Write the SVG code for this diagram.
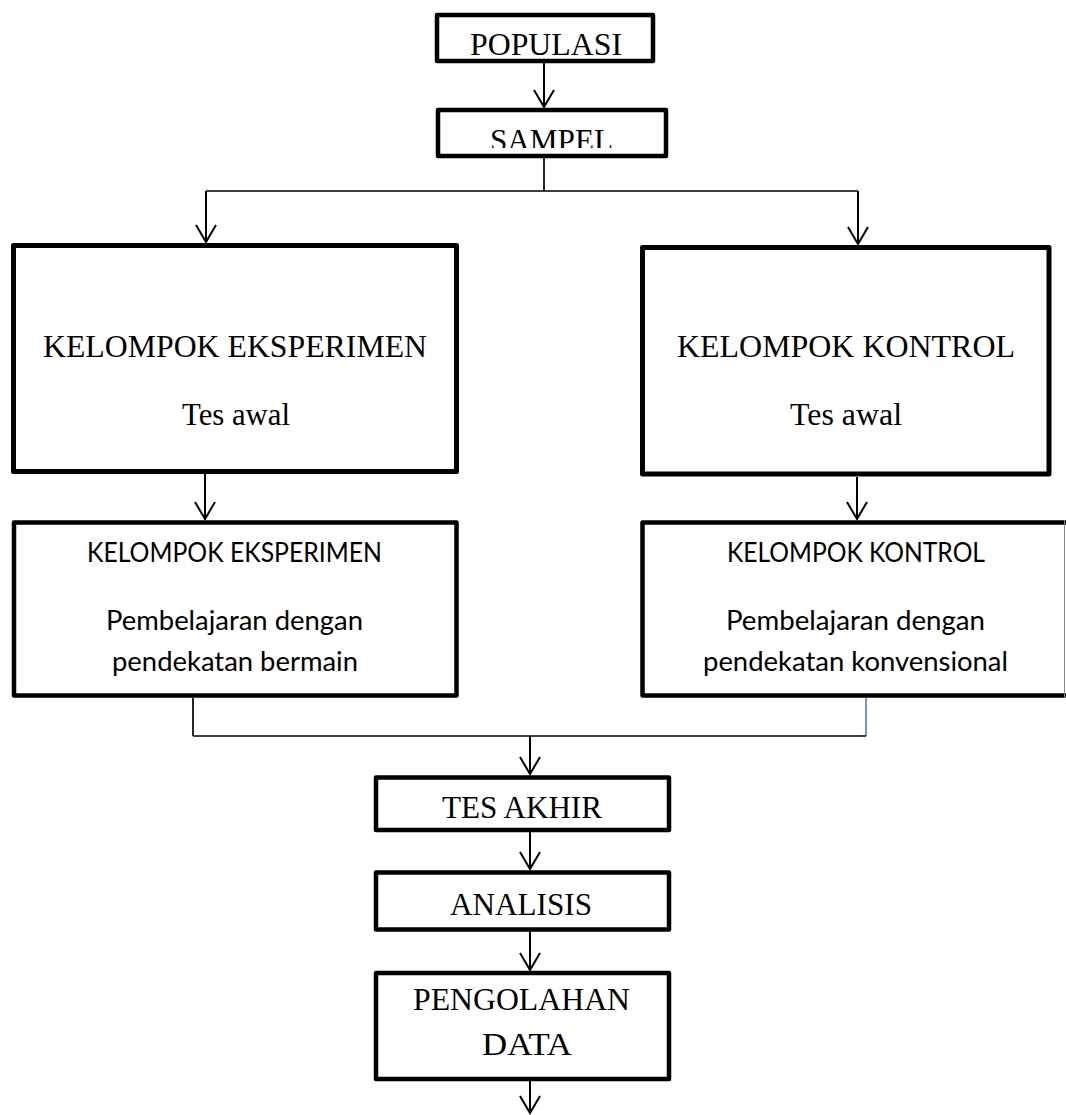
<svg xmlns="http://www.w3.org/2000/svg" width="1066" height="1115" viewBox="0 0 1066 1115">
  <style>
    .box { fill: #ffffff; stroke: #000000; stroke-width: 4.5; stroke-linejoin: round; }
    .big { stroke-width: 5; }
    .serif { font-family: "Liberation Serif", "Times New Roman", serif; font-size: 32px; fill: #000000; text-anchor: middle; }
    .sans { font-family: Lato, "Open Sans", "Liberation Sans", sans-serif; font-size: 26px; fill: #000000; text-anchor: middle; }
    .conn { fill: none; stroke: #000000; stroke-width: 2; }
    .thin { fill: none; stroke: #000000; stroke-width: 1.7; }
  </style>
  <defs>
    <marker id="arr" markerUnits="userSpaceOnUse" viewBox="-20 -12 22 24" refX="0" refY="0" markerWidth="22" markerHeight="24" orient="auto">
      <path d="M-17,-10 L0,0 L-17,10" fill="none" stroke="#000000" stroke-width="2" stroke-linejoin="miter"/>
    </marker>
    <clipPath id="clipSampel">
      <rect x="440" y="112" width="224" height="36"/>
    </clipPath>
  </defs>

  <rect width="1066" height="1115" fill="#ffffff"/>

  <g id="connectors">
    <line class="conn" x1="544" y1="63" x2="544" y2="107" marker-end="url(#arr)"/>
    <line class="thin" x1="544" y1="158" x2="544" y2="191"/>
    <line class="thin" x1="206" y1="191" x2="858" y2="191"/>
    <line class="conn" x1="206" y1="191" x2="206" y2="242" marker-end="url(#arr)"/>
    <line class="conn" x1="858" y1="191" x2="858" y2="244" marker-end="url(#arr)"/>
    <line class="conn" x1="205" y1="474" x2="205" y2="519" marker-end="url(#arr)"/>
    <line class="conn" x1="857" y1="477" x2="857" y2="519" marker-end="url(#arr)"/>
    <line class="thin" x1="193" y1="698" x2="193" y2="736"/>
    <line fill="none" stroke="#5b87cc" stroke-width="1.7" x1="866" y1="698" x2="866" y2="736"/>
    <line class="thin" x1="193" y1="736" x2="866" y2="736"/>
    <line class="conn" x1="530" y1="736" x2="530" y2="774" marker-end="url(#arr)"/>
    <line class="conn" x1="530" y1="832" x2="530" y2="869" marker-end="url(#arr)"/>
    <line class="conn" x1="530" y1="931" x2="530" y2="970" marker-end="url(#arr)"/>
    <line class="conn" x1="530" y1="1081" x2="530" y2="1113" marker-end="url(#arr)"/>
  </g>

  <g id="populasi">
    <rect class="box" x="437" y="15" width="216" height="46"/>
    <text class="serif" x="546" y="55" textLength="152" lengthAdjust="spacingAndGlyphs">POPULASI</text>
  </g>

  <g id="sampel">
    <rect class="box" x="438" y="110" width="228" height="46"/>
    <text class="serif" x="551.5" y="151" textLength="123" lengthAdjust="spacingAndGlyphs" clip-path="url(#clipSampel)">SAMPEL</text>
  </g>

  <g id="kelompok-eksperimen-tes-awal">
    <rect class="box big" x="13.5" y="245.5" width="443" height="226"/>
    <text class="serif" x="235" y="357" textLength="384" lengthAdjust="spacingAndGlyphs">KELOMPOK EKSPERIMEN</text>
    <text class="serif" x="236" y="425" textLength="108" lengthAdjust="spacingAndGlyphs">Tes awal</text>
  </g>

  <g id="kelompok-kontrol-tes-awal">
    <rect class="box big" x="642.5" y="247.5" width="406.5" height="226.5"/>
    <text class="serif" x="846" y="357" textLength="338" lengthAdjust="spacingAndGlyphs">KELOMPOK KONTROL</text>
    <text class="serif" x="846" y="425" textLength="112" lengthAdjust="spacingAndGlyphs">Tes awal</text>
  </g>

  <g id="kelompok-eksperimen-pembelajaran">
    <rect class="box" x="14" y="522.5" width="442.5" height="173"/>
    <text class="sans" x="234.5" y="562" textLength="295" lengthAdjust="spacingAndGlyphs">KELOMPOK EKSPERIMEN</text>
    <text class="sans" x="234.5" y="630" textLength="257" lengthAdjust="spacingAndGlyphs">Pembelajaran dengan</text>
    <text class="sans" x="235" y="670.5" textLength="246" lengthAdjust="spacingAndGlyphs">pendekatan bermain</text>
  </g>

  <g id="kelompok-kontrol-pembelajaran">
    <rect class="box" x="642.5" y="522.5" width="426" height="173"/>
    <line x1="1064.5" y1="520" x2="1064.5" y2="698" stroke="#8a8a8a" stroke-width="1"/>
    <text class="sans" x="856" y="562" textLength="258" lengthAdjust="spacingAndGlyphs">KELOMPOK KONTROL</text>
    <text class="sans" x="855.5" y="630" textLength="259" lengthAdjust="spacingAndGlyphs">Pembelajaran dengan</text>
    <text class="sans" x="855.5" y="670.5" textLength="305" lengthAdjust="spacingAndGlyphs">pendekatan konvensional</text>
  </g>

  <g id="tes-akhir">
    <rect class="box" x="376" y="777.5" width="293" height="52.5"/>
    <text class="serif" x="522" y="818" textLength="160" lengthAdjust="spacingAndGlyphs">TES AKHIR</text>
  </g>

  <g id="analisis">
    <rect class="box" x="376" y="872.5" width="293" height="57"/>
    <text class="serif" x="521" y="915" textLength="142" lengthAdjust="spacingAndGlyphs">ANALISIS</text>
  </g>

  <g id="pengolahan-data">
    <rect class="box" x="376" y="973" width="293" height="106"/>
    <text class="serif" x="521.5" y="1010" textLength="217" lengthAdjust="spacingAndGlyphs">PENGOLAHAN</text>
    <text class="serif" x="527" y="1055" textLength="90" lengthAdjust="spacingAndGlyphs">DATA</text>
  </g>
</svg>
